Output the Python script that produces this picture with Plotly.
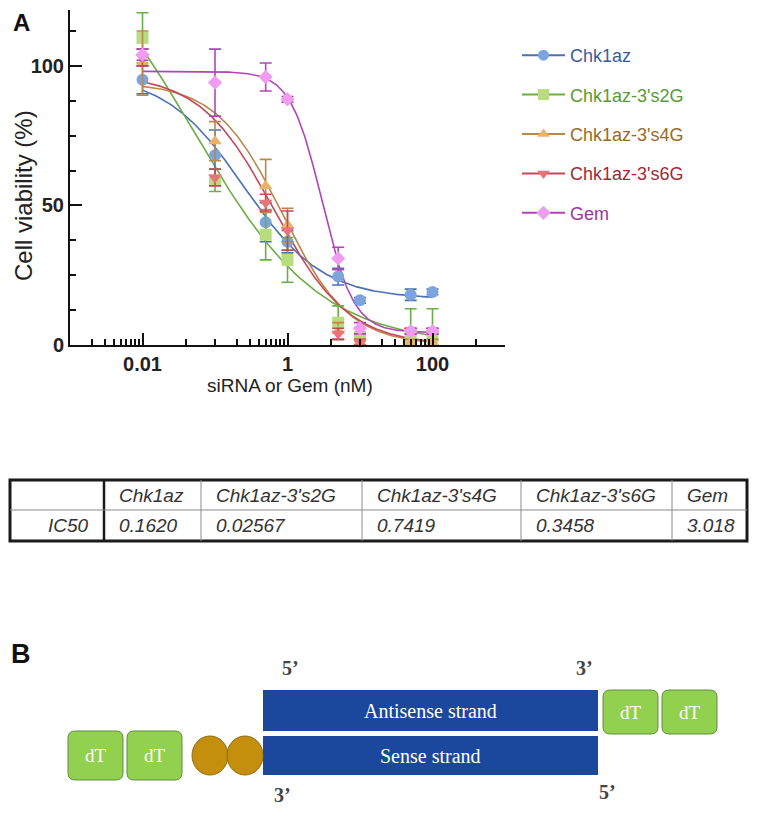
import numpy as np
import plotly.graph_objects as go

W, H = 757, 813
OFF = 8                              # page body margin of the html page
FW, FH = W - 2 * OFF, H - 2 * OFF    # figure size so the page is exactly the window

# ---------------- data ----------------
conc = [0.01, 0.1, 0.5, 1, 5, 10, 50, 100]

names = ["Chk1az", "Chk1az-3's2G", "Chk1az-3's4G", "Chk1az-3's6G", "Gem"]
chk1az = [95, 68, 44, 37, 24.5, 16, 18, 19]
chk1az_err = [5, 9, 7, 4, 3, 1, 2, 1]
s2g = [110, 59, 39.5, 30.5, 8, 3, 3, 3]
s2g_err = [9, 4, 9, 8, 6, 0, 10, 10]
s4g = [101, 73, 57, 43, 5, 1, 1, 1]
s4g_err = [11.5, 7, 9.5, 6, 3, 1, 1, 1]
s6g = [103, 60, 51, 41, 4, 1, 5, 5]
s6g_err = [3, 3, 3, 7, 2, 1, 1, 1]
gem = [104, 94, 96, 88, 31, 6, 5, 5]
gem_err = [2, 12, 5, 1, 4, 2, 1, 1]

# four-parameter logistic fit parameters (estimated from drawn curves)
fit_top = [97, 153, 94, 97, 98]
fit_bottom = [16.5, 0, 0, 0, 4.5]
fit_ec50 = [0.25, 0.051, 0.85, 0.65, 3.0]
fit_hill = [0.8, 0.5, 0.95, 0.85, 2.0]

# IC50 table
table_header = ["", "Chk1az", "Chk1az-3's2G", "Chk1az-3's4G", "Chk1az-3's6G", "Gem"]
table_row = ["IC50", "0.1620", "0.02567", "0.7419", "0.3458", "3.018"]

# axis ticks
x_major = [0.01, 1, 100]
x_major_text = ["0.01", "1", "100"]
x_minor = [0.002, 0.003, 0.004, 0.005, 0.006, 0.007, 0.008, 0.009, 0.04,
           0.1, 0.2, 0.3, 0.4, 0.5, 0.6, 0.7, 0.8, 0.9, 4,
           10, 20, 30, 40, 50, 60, 70, 80, 90, 400, 1000]
y_major = [0, 50, 100]
y_minor = [12.5, 25, 37.5, 62.5, 75, 87.5, 112.5]

# ---------------- styles ----------------
values = [chk1az, s2g, s4g, s6g, gem]
errors = [chk1az_err, s2g_err, s4g_err, s6g_err, gem_err]
marker_colors = ["#7da4dd", "#b9dc80", "#e9b46a", "#e8737a", "#f09cf0"]
line_colors = ["#4a70b6", "#6cae46", "#b8894a", "#c64858", "#b046b4"]
text_colors = ["#3a5c9c", "#5a9a38", "#9a6a2a", "#a02a38", "#9a349c"]
symbols = ["circle", "square", "triangle-up", "triangle-down", "diamond"]
sizes = [12, 12, 12, 12, 11]


def PX(x):
    return (x - OFF) / FW


def PY(y):
    return 1 - (y - OFF) / FH


fig = go.Figure()
xfit = np.logspace(-2, 2, 300)

for i, nm in enumerate(names):
    yfit = fit_bottom[i] + (fit_top[i] - fit_bottom[i]) / (1 + (xfit / fit_ec50[i]) ** fit_hill[i])
    fig.add_trace(go.Scatter(x=xfit, y=yfit, mode="lines",
                             line=dict(color=line_colors[i], width=1.6),
                             showlegend=False, hoverinfo="skip"))

for i, nm in enumerate(names):
    fig.add_trace(go.Scatter(
        x=conc, y=values[i], mode="markers",
        marker=dict(symbol=symbols[i], size=sizes[i], color=marker_colors[i],
                    line=dict(width=0)),
        error_y=dict(type="data", array=errors[i], visible=True,
                     color=line_colors[i], thickness=1.6, width=6),
        showlegend=False, cliponaxis=False))

for i, nm in enumerate(names):
    fig.add_trace(go.Scatter(
        x=[None], y=[None], mode="lines+markers",
        name=f"<span style='color:{text_colors[i]}'>{nm}</span>",
        legendgroup=f"g{i}",
        line=dict(color=line_colors[i], width=2),
        marker=dict(symbol=symbols[i], size=11, color=marker_colors[i])))

font_sans = "Liberation Sans, Arial, sans-serif"
font_serif = "Liberation Serif, DejaVu Serif, serif"

fig.update_layout(
    width=FW, height=FH,
    margin=dict(l=0, r=0, t=0, b=0, autoexpand=False),
    paper_bgcolor="white", plot_bgcolor="white",
    font=dict(family=font_sans, color="#222"),
    legend=dict(x=PX(517), y=PY(37), xanchor="left", yanchor="top",
                font=dict(size=18, family=font_sans), itemwidth=43,
                tracegroupgap=13, bgcolor="rgba(0,0,0,0)"),
    xaxis=dict(type="log", range=[-3, 3], domain=[PX(70), PX(505)],
               showline=True, linecolor="#111", linewidth=2,
               ticks="inside", ticklen=12, tickwidth=2, tickcolor="#111",
               tickvals=x_major, ticktext=x_major_text,
               tickfont=dict(size=20, weight="bold", color="#222"),
               minor=dict(tickvals=x_minor, ticks="inside", ticklen=6,
                          tickwidth=1.5, tickcolor="#111"),
               showgrid=False, zeroline=False, anchor="y", automargin=False),
    yaxis=dict(range=[0, 120], domain=[PY(345), PY(10)],
               showline=True, linecolor="#111", linewidth=2,
               ticks="inside", ticklen=12, tickwidth=2, tickcolor="#111",
               tickvals=y_major, ticktext=[str(v) for v in y_major],
               tickfont=dict(size=20, weight="bold", color="#222"),
               minor=dict(tickvals=y_minor, ticks="inside", ticklen=6,
                          tickwidth=1.5, tickcolor="#111"),
               showgrid=False, zeroline=False, anchor="x", automargin=False),
)

ann = []
shapes = []


def note(text, x, y, font, xanchor="center", yanchor="middle", **kw):
    ann.append(dict(text=text, x=PX(x), y=PY(y), xref="paper", yref="paper",
                    xanchor=xanchor, yanchor=yanchor, showarrow=False, font=font, **kw))


# panel labels and axis titles
note("<b>A</b>", 21, 22, dict(size=24, family=font_sans, color="#111"))
note("Cell viability (%)", 23, 196, dict(size=24, family=font_sans, color="#222"), textangle=-90)
note("siRNA or Gem (nM)", 290, 385, dict(size=19, family=font_sans, color="#222"))

# ---------------- table ----------------
tx = [10, 104, 201, 362, 521, 672, 747]
ty = [480, 510, 541]


def pline(x0, y0, x1, y1, color, width):
    shapes.append(dict(type="line", xref="paper", yref="paper",
                       x0=PX(x0), x1=PX(x1), y0=PY(y0), y1=PY(y1),
                       line=dict(color=color, width=width)))


shapes.append(dict(type="rect", xref="paper", yref="paper",
                   x0=PX(tx[0]), x1=PX(tx[-1]), y0=PY(ty[0]), y1=PY(ty[-1]),
                   line=dict(color="#1a1a1a", width=3)))
pline(tx[1], ty[0], tx[1], ty[-1], "#1a1a1a", 2.5)
for xv in tx[2:-1]:
    pline(xv, ty[0], xv, ty[-1], "#8a8a8a", 1)
pline(tx[0], ty[1], tx[-1], ty[1], "#8a8a8a", 1)

tfont = dict(size=19, family=font_sans, style="italic", color="#333")
for j in range(1, 6):
    note(table_header[j], tx[j] + 13, (ty[0] + ty[1]) / 2, tfont, xanchor="left")
    note(table_row[j], tx[j] + 13, (ty[1] + ty[2]) / 2, tfont, xanchor="left")
note(table_row[0], tx[1] - 13, (ty[1] + ty[2]) / 2, tfont, xanchor="right")

# ---------------- panel B diagram ----------------
note("<b>B</b>", 21, 654, dict(size=27, family=font_sans, color="#111"))

blue = "#1b479d"
for (y0, y1, label) in [(690, 731, "Antisense strand"), (736, 775, "Sense strand")]:
    shapes.append(dict(type="rect", xref="paper", yref="paper",
                       x0=PX(263), x1=PX(598), y0=PY(y0), y1=PY(y1),
                       fillcolor=blue, line=dict(width=0)))
    note(label, 431, (y0 + y1) / 2, dict(size=20, family=font_serif, color="white"))


def rrect(x0, y0, x1, y1, r):
    def P(x, y):
        return f"{PX(x):.5f},{PY(y):.5f}"
    return (f"M {P(x0 + r, y0)} L {P(x1 - r, y0)} Q {P(x1, y0)} {P(x1, y0 + r)} "
            f"L {P(x1, y1 - r)} Q {P(x1, y1)} {P(x1 - r, y1)} L {P(x0 + r, y1)} "
            f"Q {P(x0, y1)} {P(x0, y1 - r)} L {P(x0, y0 + r)} Q {P(x0, y0)} {P(x0 + r, y0)} Z")


for (x0, x1, y0, y1) in [(603, 658, 690, 734), (662, 717, 690, 734),
                         (68, 123, 731, 780), (127, 182, 731, 780)]:
    shapes.append(dict(type="path", xref="paper", yref="paper", path=rrect(x0, y0, x1, y1, 7),
                       fillcolor="#92d050", line=dict(color="#5f8f3f", width=1)))
    note("dT", (x0 + x1) / 2, (y0 + y1) / 2, dict(size=19, family=font_serif, color="white"))

for (x0, x1) in [(192, 228), (227, 263)]:
    shapes.append(dict(type="circle", xref="paper", yref="paper",
                       x0=PX(x0), x1=PX(x1), y0=PY(736), y1=PY(775),
                       fillcolor="#c38f0c", line=dict(color="#8f6a10", width=1)))

pfont = dict(size=20, family=font_serif, color="#444")
for (txt, x, y) in [("5’", 290, 668), ("3’", 584, 668), ("3’", 282, 795), ("5’", 607, 792)]:
    note(f"<b>{txt}</b>", x, y, pfont)

fig.update_layout(annotations=ann, shapes=shapes)
fig.write_html("out.html")
